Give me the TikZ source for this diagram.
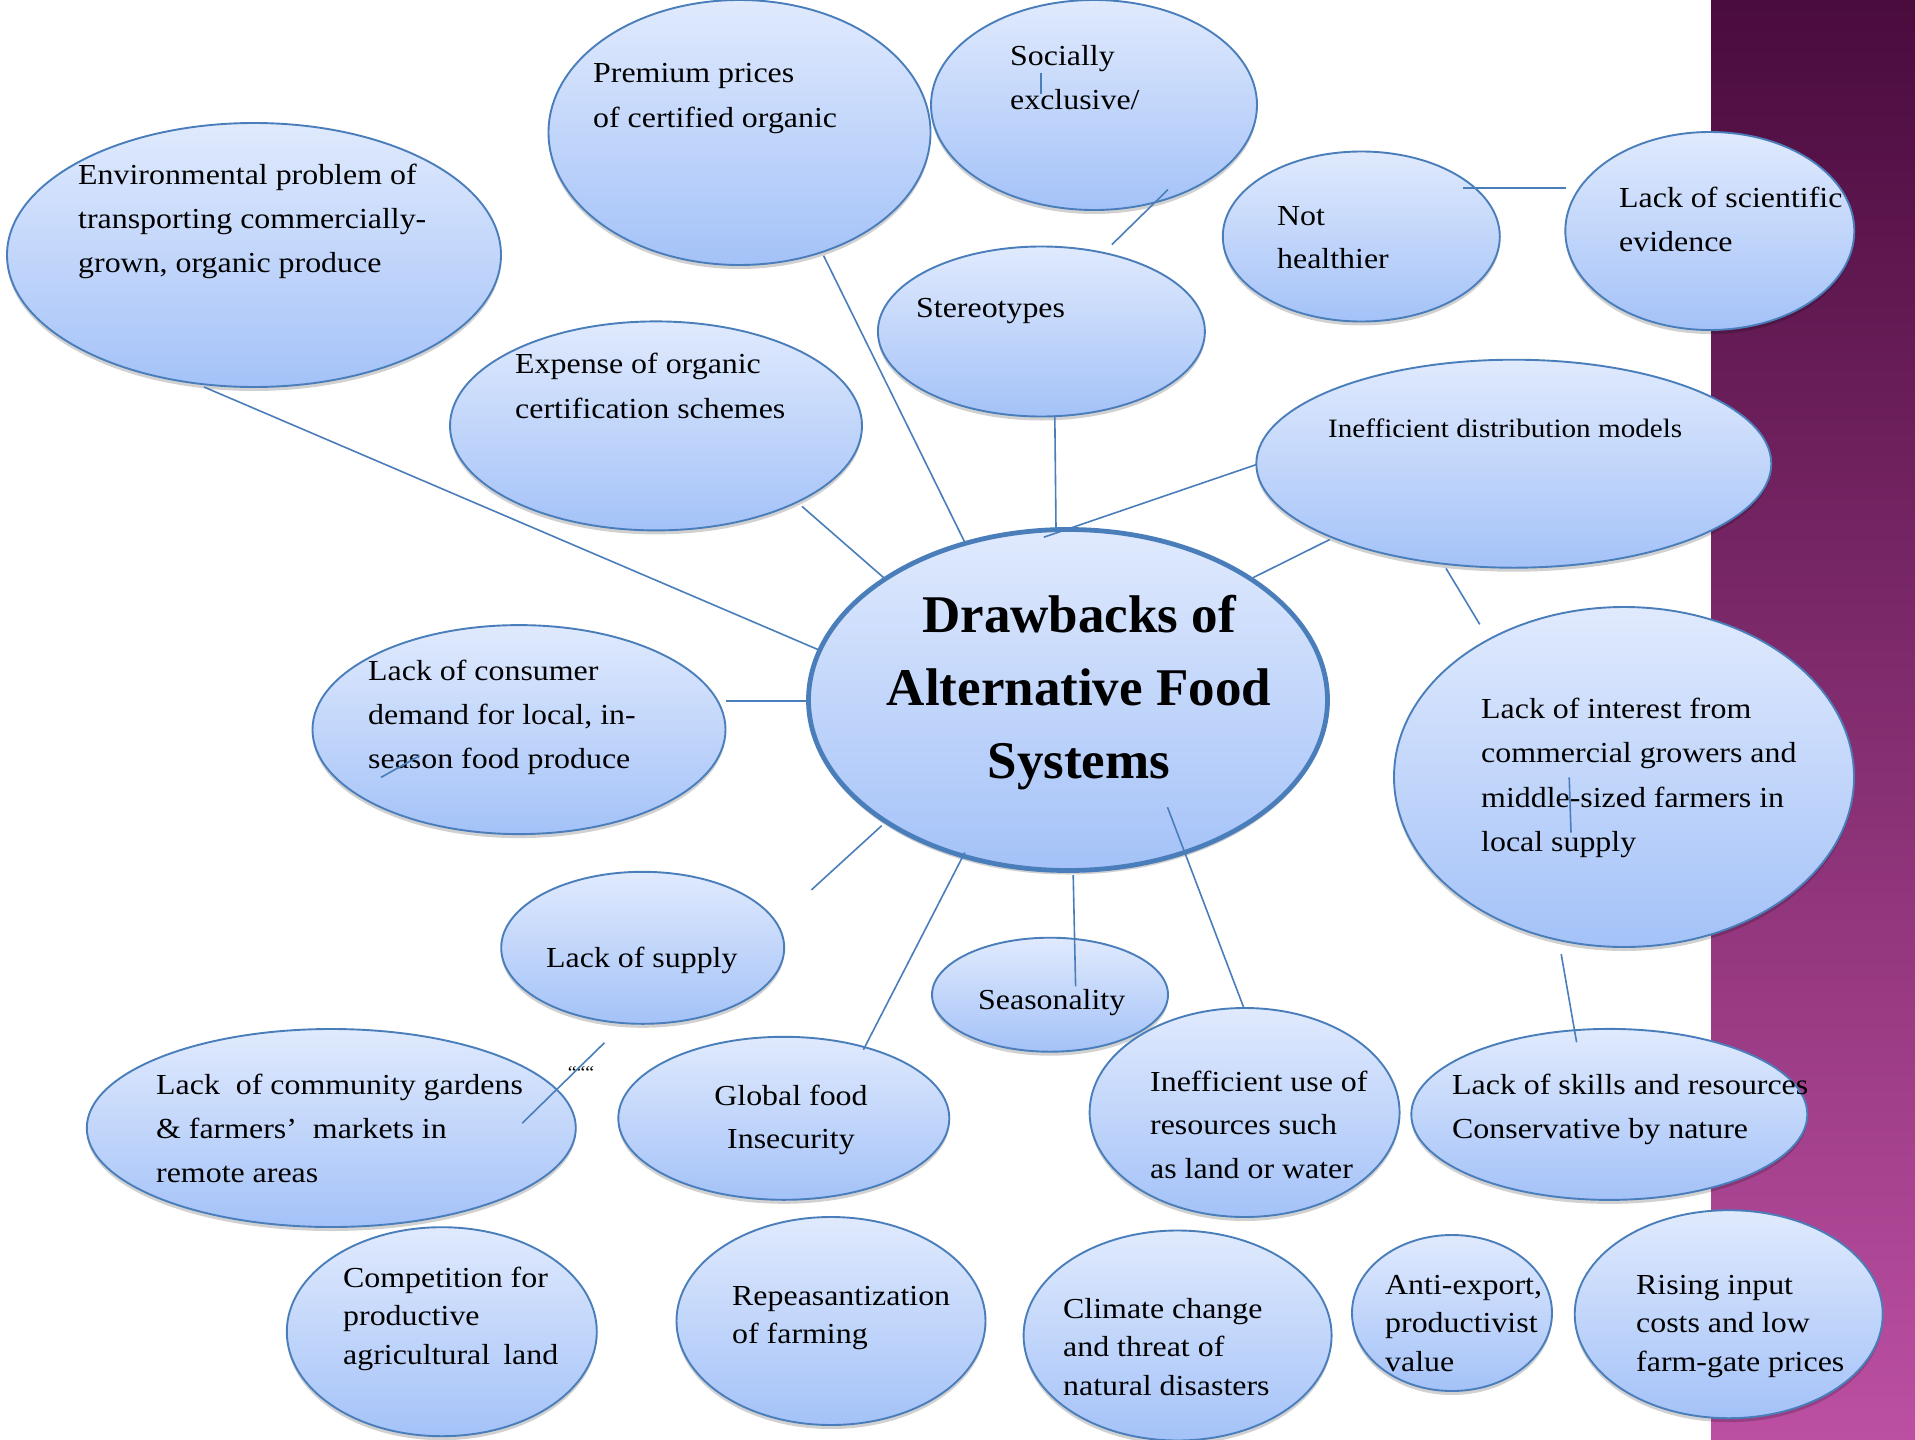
\documentclass[tikz,border=0pt]{standalone}
\usepackage{fontspec}
\setmainfont{Liberation Serif}[FakeStretch=1.1]
\newfontfamily\titlefont{Liberation Serif}
\usetikzlibrary{shapes.geometric,shadows}
\definecolor{ftop}{HTML}{E0EAFD}
\definecolor{fbot}{HTML}{A4C2F8}
\definecolor{bord}{HTML}{4A7EBB}
\definecolor{ptop}{HTML}{4A0B3D}
\definecolor{pmid}{HTML}{7B2B6B}
\definecolor{pbot}{HTML}{BC4FA2}
\tikzset{
  bub/.style={ellipse, draw=bord, line width=1.9pt, top color=ftop, bottom color=fbot,
    inner sep=0pt, drop shadow={shadow xshift=0pt, shadow yshift=-4pt, opacity=0.18, fill=black}},
  hub/.style={bub, line width=4.8pt},
  txt/.style={inner sep=0pt, anchor=base west, align=left, text=black, font=\fontsize{29}{44}\selectfont},
  txtb/.style={txt, font=\fontsize{29}{38.5}\selectfont},
  conn/.style={draw=bord, line width=1.6pt}
}
\begin{document}
\begin{tikzpicture}[x=1pt,y=-1pt]
\useasboundingbox (0,0) rectangle (1915,1440);
\fill[white] (0,0) rectangle (1915,1440);
\shade[top color=ptop, middle color=pmid, bottom color=pbot] (1711,0) rectangle (1915,1440);

% ellipses
\node[bub, minimum width=494pt, minimum height=264pt] (env) at (254,255) {};
\node[bub, minimum width=382pt, minimum height=265pt] (prem) at (739.5,132.5) {};
\node[bub, minimum width=326pt, minimum height=210pt] (soc) at (1094,105) {};
\node[bub, minimum width=327pt, minimum height=170pt] (ster) at (1041.4,331.5) {};
\node[bub, minimum width=277pt, minimum height=170pt] (noth) at (1361.3,236.5) {};
\node[bub, minimum width=289pt, minimum height=198pt] (sci) at (1709.8,231) {};
\node[bub, minimum width=412pt, minimum height=209pt] (exp) at (656,425.9) {};
\node[bub, minimum width=515pt, minimum height=208pt] (dist) at (1513.8,463.7) {};
\node[bub, minimum width=413pt, minimum height=209pt] (cons) at (519,729.6) {};
\node[bub, minimum width=460pt, minimum height=340pt] (intr) at (1624,777) {};
\node[bub, minimum width=283pt, minimum height=152pt] (supp) at (642.7,947.8) {};
\node[bub, minimum width=236pt, minimum height=114pt] (seas) at (1050,994.7) {};
\node[bub, minimum width=489pt, minimum height=198pt] (comm) at (331.3,1128) {};
\node[bub, minimum width=331pt, minimum height=163pt] (glob) at (783.8,1118.3) {};
\node[bub, minimum width=310pt, minimum height=209pt] (ineu) at (1244.6,1112.5) {};
\node[bub, minimum width=396pt, minimum height=171pt] (skil) at (1609.3,1114.4) {};
\node[bub, minimum width=310pt, minimum height=209pt] (comp) at (441.8,1331.7) {};
\node[bub, minimum width=309pt, minimum height=208pt] (repe) at (831,1321) {};
\node[bub, minimum width=308pt, minimum height=210pt] (clim) at (1177.6,1335.5) {};
\node[bub, minimum width=200pt, minimum height=156pt] (anti) at (1452,1313) {};
\node[bub, minimum width=308pt, minimum height=208pt] (risi) at (1728.7,1314.2) {};
\node[hub, minimum width=519pt, minimum height=341pt] (hub) at (1068,700) {};

% texts (anchor = baseline of the last line)
\node[txt] (tenv) at (78,272) {Environmental problem of\\transporting commercially-\\grown, organic produce};
\node[txt, font=\fontsize{29}{45}\selectfont] (tprem) at (593,127) {Premium prices\\of certified organic};
\node[txt] (tsoc) at (1010,109) {Socially\\exclusive/};
\node[txt] (tster) at (916,317) {Stereotypes};
\node[txt, font=\fontsize{29}{43}\selectfont] (tnoth) at (1277,268) {Not\\healthier};
\node[txt] (tsci) at (1619,251) {Lack of scientific\\evidence};
\node[txt, font=\fontsize{29}{45}\selectfont] (texp) at (515,418) {Expense of organic\\certification schemes};
\node[txt, font=\fontsize{26.5}{40}\selectfont] (tdist) at (1328,437) {Inefficient distribution models};
\node[txt] (tcons) at (368,768) {Lack of consumer\\demand for local, in-\\season food produce};
\node[txt, font=\fontsize{29}{44.5}\selectfont] (tintr) at (1481,851.5) {Lack of interest from\\commercial growers and\\middle-sized farmers in\\local supply};
\node[txt] (tsupp) at (546,967) {Lack of supply};
\node[txt] (tseas) at (978,1009) {Seasonality};
\node[txt] (tcomm) at (156,1182) {Lack~~of community gardens\\\&~farmers’~~markets in\\remote areas};
\node[txt, anchor=base, align=center, font=\fontsize{29}{43.5}\selectfont] (tglob) at (791,1148.5) {Global food\\Insecurity};
\node[txt, font=\fontsize{29}{43.5}\selectfont] (tineu) at (1150,1178) {Inefficient use of\\resources such\\as land or water};
\node[txt] (tskil) at (1452,1138) {Lack of skills and resources\\Conservative by nature};
\node[txtb] (tcomp) at (343,1364) {Competition for\\productive\\agricultural\hspace{0.45em}land};
\node[txtb] (trepe) at (732,1343.5) {Repeasantization\\of farming};
\node[txtb] (tclim) at (1063,1395) {Climate change\\and threat of\\natural disasters};
\node[txtb] (tanti) at (1385,1371) {Anti-export,\\productivist\\value};
\node[txtb] (trisi) at (1636,1371) {Rising input\\costs and low\\farm-gate prices};
\node[inner sep=0pt, anchor=base, font=\titlefont\bfseries\fontsize{53}{73.3}\selectfont, align=center] (thub) at (1079,778.6) {Drawbacks of\\Alternative Food\\Systems};
\node[inner sep=0pt, font=\fontsize{18}{18}\selectfont] (ticks) at (581,1072) {\char"60\char"60\char"60\char"60\char"60\char"60};

% connector end points
\coordinate (a1) at (204,387);      \coordinate (a2) at (819,650);
\coordinate (b1) at (823.6,255.7);  \coordinate (b2) at (964.8,542.3);
\coordinate (c1) at (802,506.4);    \coordinate (c2) at (883.6,577.6);
\coordinate (d1) at (1054.8,415.5); \coordinate (d2) at (1056,528);
\coordinate (e1) at (1168,189.6);   \coordinate (e2) at (1111.8,244.7);
\coordinate (f1) at (1463,188.2);   \coordinate (f2) at (1565.5,188.2);
\coordinate (g1) at (1256.3,464.6); \coordinate (g2) at (1043.8,537.2);
\coordinate (h1) at (1329.8,539.5); \coordinate (h2) at (1253.2,577.6);
\coordinate (i1) at (1446,568.4);   \coordinate (i2) at (1479.8,624.4);
\coordinate (j1) at (725.5,701);    \coordinate (j2) at (808.5,701);
\coordinate (k1) at (881.8,825.6);  \coordinate (k2) at (811.4,889.9);
\coordinate (l1) at (964.8,852.5);  \coordinate (l2) at (863.4,1049.7);
\coordinate (m1) at (1073.2,875.2); \coordinate (m2) at (1075.6,986.3);
\coordinate (n1) at (1167.5,807.2); \coordinate (n2) at (1244,1008.3);
\coordinate (o1) at (1561.2,954.2); \coordinate (o2) at (1576.6,1042.3);
\coordinate (p1) at (604.4,1042.8); \coordinate (p2) at (522.3,1123.1);
\coordinate (q1) at (381,777.4);    \coordinate (q2) at (419.5,755.8);
\coordinate (r1) at (1041,73);      \coordinate (r2) at (1041,94);
\coordinate (s1) at (1569.2,777.4); \coordinate (s2) at (1571,832.5);

\draw[conn] (a1) -- (a2);
\draw[conn] (b1) -- (b2);
\draw[conn] (c1) -- (c2);
\draw[conn] (d1) -- (d2);
\draw[conn] (e1) -- (e2);
\draw[conn] (f1) -- (f2);
\draw[conn] (g1) -- (g2);
\draw[conn] (h1) -- (h2);
\draw[conn] (i1) -- (i2);
\draw[conn] (j1) -- (j2);
\draw[conn] (k1) -- (k2);
\draw[conn] (l1) -- (l2);
\draw[conn] (m1) -- (m2);
\draw[conn] (n1) -- (n2);
\draw[conn] (o1) -- (o2);
\draw[conn] (p1) -- (p2);
\draw[conn] (q1) -- (q2);
\draw[conn] (r1) -- (r2);
\draw[conn] (s1) -- (s2);
\end{tikzpicture}
\end{document}
